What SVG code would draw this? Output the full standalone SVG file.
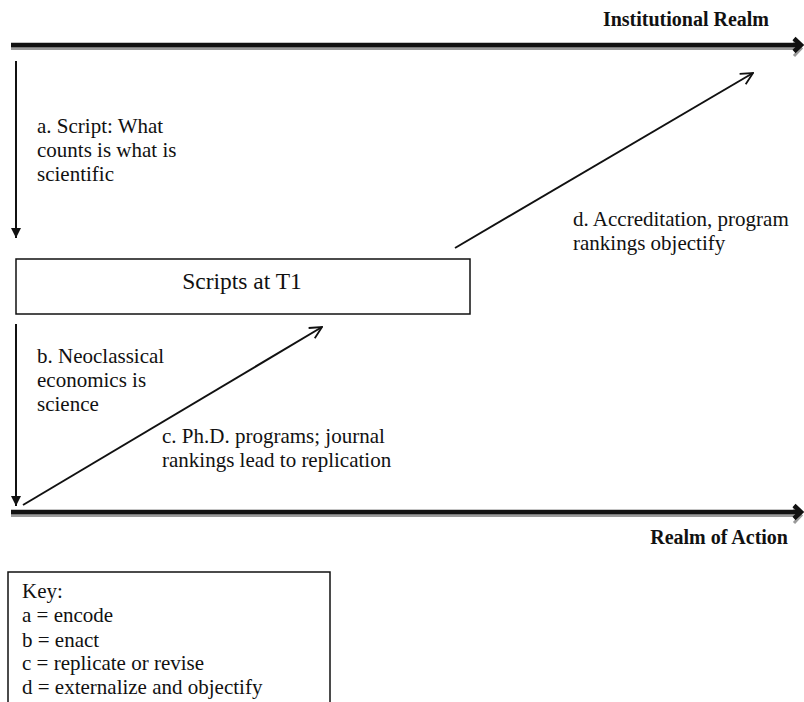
<svg xmlns="http://www.w3.org/2000/svg" width="804" height="702" viewBox="0 0 804 702">
<style>
  text { font-family: "Liberation Serif", "Times New Roman", serif; fill: #111; }
  .lbl { font-size: 21px; }
  .realm { font-size: 20px; font-weight: bold; }
  .box { fill: #fff; stroke: #111; stroke-width: 1.5; }
  .thin { stroke: #111; stroke-width: 2; fill: none; }
  .thick { stroke: #111; stroke-width: 4.5; fill: none; }
  .shadow { stroke: #9a9a9a; stroke-width: 3; fill: none; }
</style>
<defs>
  <marker id="filled" viewBox="0 0 10 10" refX="10" refY="5" markerWidth="10" markerHeight="10" markerUnits="userSpaceOnUse" orient="auto">
    <path d="M0,0 L10,5 L0,10 Z" fill="#111"/>
  </marker>
  <marker id="open" viewBox="0 0 14 14" refX="13" refY="7" markerWidth="14" markerHeight="14" markerUnits="userSpaceOnUse" orient="auto">
    <path d="M1,1 L13,7 L1,13" fill="none" stroke="#111" stroke-width="1.8"/>
  </marker>
</defs>
<rect width="804" height="702" fill="#fff"/>

<g id="institutional-realm">
  <line class="shadow" x1="11" y1="48.5" x2="797" y2="48.5"/>
  <polyline class="shadow" points="794,41 801,48.5 794,56"/>
  <line class="thick" x1="11" y1="45" x2="800" y2="45"/>
  <polyline class="thick" points="794,38.5 801,45 794,51.5" stroke-linejoin="miter"/>
  <text class="realm" x="769" y="26" text-anchor="end">Institutional Realm</text>
</g>

<g id="realm-of-action">
  <line class="shadow" x1="11" y1="515.5" x2="797" y2="515.5"/>
  <polyline class="shadow" points="794,508 801,515.5 794,523"/>
  <line class="thick" x1="11" y1="512" x2="800" y2="512"/>
  <polyline class="thick" points="794,505.5 801,512 794,518.5" stroke-linejoin="miter"/>
  <text class="realm" x="788" y="544" text-anchor="end">Realm of Action</text>
</g>

<g id="scripts-t1">
  <rect class="box" x="16" y="259" width="454" height="55"/>
  <text x="242" y="289" text-anchor="middle" style="font-size:23.5px">Scripts at T1</text>
</g>

<g id="connectors">
  <line class="thin" x1="16" y1="61" x2="16" y2="238" marker-end="url(#filled)"/>
  <line class="thin" x1="16" y1="324" x2="16" y2="506" marker-end="url(#filled)"/>
  <line class="thin" x1="23" y1="505" x2="322" y2="327" marker-end="url(#open)"/>
  <line class="thin" x1="455" y1="248" x2="753" y2="73" marker-end="url(#open)"/>
</g>

<g id="label-a">
  <text class="lbl" x="37" y="133">a. Script: What</text>
  <text class="lbl" x="37" y="157">counts is what is</text>
  <text class="lbl" x="37" y="181">scientific</text>
</g>
<g id="label-b">
  <text class="lbl" x="37" y="363">b. Neoclassical</text>
  <text class="lbl" x="37" y="387">economics is</text>
  <text class="lbl" x="37" y="411">science</text>
</g>
<g id="label-c">
  <text class="lbl" x="162" y="443">c. Ph.D. programs; journal</text>
  <text class="lbl" x="162" y="467">rankings lead to replication</text>
</g>
<g id="label-d">
  <text class="lbl" x="573" y="226">d. Accreditation, program</text>
  <text class="lbl" x="573" y="250">rankings objectify</text>
</g>

<g id="key">
  <rect class="box" x="8" y="572" width="322" height="140"/>
  <text class="lbl" x="22" y="598">Key:</text>
  <text class="lbl" x="22" y="622">a = encode</text>
  <text class="lbl" x="22" y="647">b = enact</text>
  <text class="lbl" x="22" y="670">c = replicate or revise</text>
  <text class="lbl" x="22" y="694">d = externalize and objectify</text>
</g>
</svg>
